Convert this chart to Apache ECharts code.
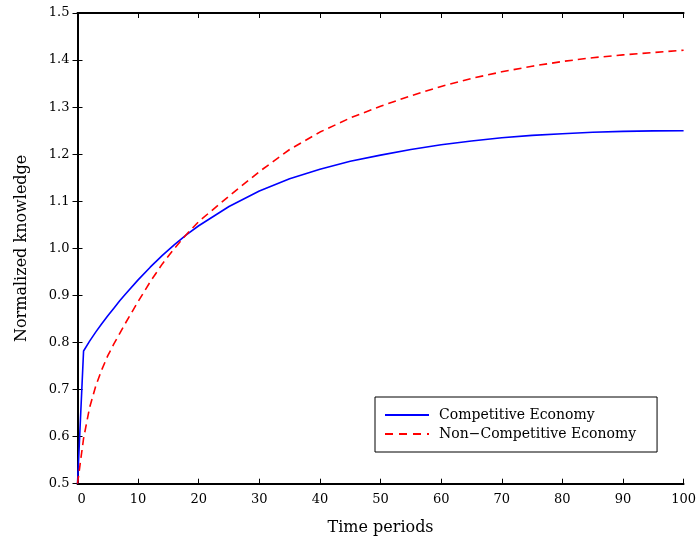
<!DOCTYPE html>
<html>
<head>
<meta charset="utf-8">
<script src="https://cdn.jsdelivr.net/npm/echarts@6/dist/echarts.min.js"></script>
<style>
  html, body { margin: 0; padding: 0; background: #ffffff; }
  #chart { width: 699px; height: 542px; }
</style>
</head>
<body>
<div id="chart"></div>
<script>
// ---- data ----
const timePeriods = [0, 1, 2, 3, 4, 5, 6, 7, 8, 10, 12, 14, 16, 18, 20, 25, 30, 35, 40, 45, 50, 55, 60, 65, 70, 75, 80, 85, 90, 95, 100];
const competitive = [0.500, 0.782, 0.803, 0.822, 0.840, 0.857, 0.873, 0.889, 0.904, 0.933, 0.960, 0.985, 1.008, 1.029, 1.048, 1.089, 1.122, 1.148, 1.168, 1.185, 1.198, 1.210, 1.220, 1.228, 1.235, 1.240, 1.2435, 1.2465, 1.2485, 1.2495, 1.250];
const nonCompetitive = [0.500, 0.596, 0.662, 0.707, 0.742, 0.772, 0.797, 0.820, 0.843, 0.887, 0.929, 0.967, 1.000, 1.030, 1.057, 1.111, 1.163, 1.210, 1.247, 1.277, 1.302, 1.324, 1.344, 1.361, 1.375, 1.387, 1.397, 1.405, 1.411, 1.416, 1.421];
const seriesNames = ['Competitive Economy', 'Non\u2212Competitive Economy'];
const xTitle = 'Time periods';
const yTitle = 'Normalized knowledge';

const pairs = (ys) => timePeriods.map((t, i) => [t, ys[i]]);

const FONT = 'DejaVu Serif';
const chart = echarts.init(document.getElementById('chart'), null, { renderer: 'canvas' });

const axisLineStyle = { show: true, lineStyle: { color: '#000', width: 2 } };
const tickStyle = { show: true, inside: true, length: 5, lineStyle: { color: '#000', width: 1 } };

// legend sample icons (solid and dashed line shapes)
const solidIcon = 'path://M0,0H44V2H0Z';
const dashedIcon = 'path://M0,0H8V2H0Z M14,0H22V2H14Z M28,0H36V2H28Z M42,0H44V2H42Z';

chart.setOption({
  backgroundColor: '#ffffff',
  animation: false,
  grid: { left: 77.5, right: 14, top: 13, bottom: 58.3, containLabel: false },
  xAxis: [
    {
      type: 'value', min: 0, max: 100, interval: 10,
      name: xTitle, nameLocation: 'middle', nameGap: 36,
      nameTextStyle: { fontFamily: FONT, fontSize: 16, color: '#000' },
      axisLine: axisLineStyle, axisTick: tickStyle,
      axisLabel: { fontFamily: FONT, fontSize: 13, color: '#000', margin: 9, alignMinLabel: 'left' },
      splitLine: { show: false }
    },
    {
      type: 'value', min: 0, max: 100, interval: 10, position: 'top',
      axisLine: axisLineStyle, axisTick: tickStyle,
      axisLabel: { show: false }, splitLine: { show: false }
    }
  ],
  yAxis: [
    {
      type: 'value', min: 0.5, max: 1.5, interval: 0.1,
      name: yTitle, nameLocation: 'middle', nameGap: 48,
      nameTextStyle: { fontFamily: FONT, fontSize: 16, color: '#000' },
      axisLine: axisLineStyle, axisTick: tickStyle,
      axisLabel: { fontFamily: FONT, fontSize: 13, color: '#000', margin: 8,
        formatter: (v) => v.toFixed(1) },
      splitLine: { show: false }
    },
    {
      type: 'value', min: 0.5, max: 1.5, interval: 0.1, position: 'right',
      axisLine: axisLineStyle, axisTick: tickStyle,
      axisLabel: { show: false }, splitLine: { show: false }
    }
  ],
  legend: {
    show: true,
    orient: 'vertical',
    left: 375, top: 397,
    padding: [11, 21, 11, 10],
    itemGap: 5,
    itemWidth: 44, itemHeight: 2,
    backgroundColor: '#fff',
    borderColor: '#000', borderWidth: 1, borderRadius: 0,
    textStyle: { fontFamily: FONT, fontSize: 14, lineHeight: 14, color: '#000', padding: [0, 0, 0, 5] },
    data: [
      { name: seriesNames[0], icon: solidIcon },
      { name: seriesNames[1], icon: dashedIcon }
    ]
  },
  series: [
    {
      name: seriesNames[0], type: 'line', data: pairs(competitive),
      xAxisIndex: 0, yAxisIndex: 0,
      showSymbol: false, symbol: 'none', smooth: false,
      lineStyle: { color: '#0000ff', width: 1.6 },
      itemStyle: { color: '#0000ff' }
    },
    {
      name: seriesNames[1], type: 'line', data: pairs(nonCompetitive),
      xAxisIndex: 0, yAxisIndex: 0,
      showSymbol: false, symbol: 'none', smooth: false,
      lineStyle: { color: '#ff0000', width: 1.6, type: [8, 5] },
      itemStyle: { color: '#ff0000' }
    }
  ]
});
</script>
</body>
</html>
